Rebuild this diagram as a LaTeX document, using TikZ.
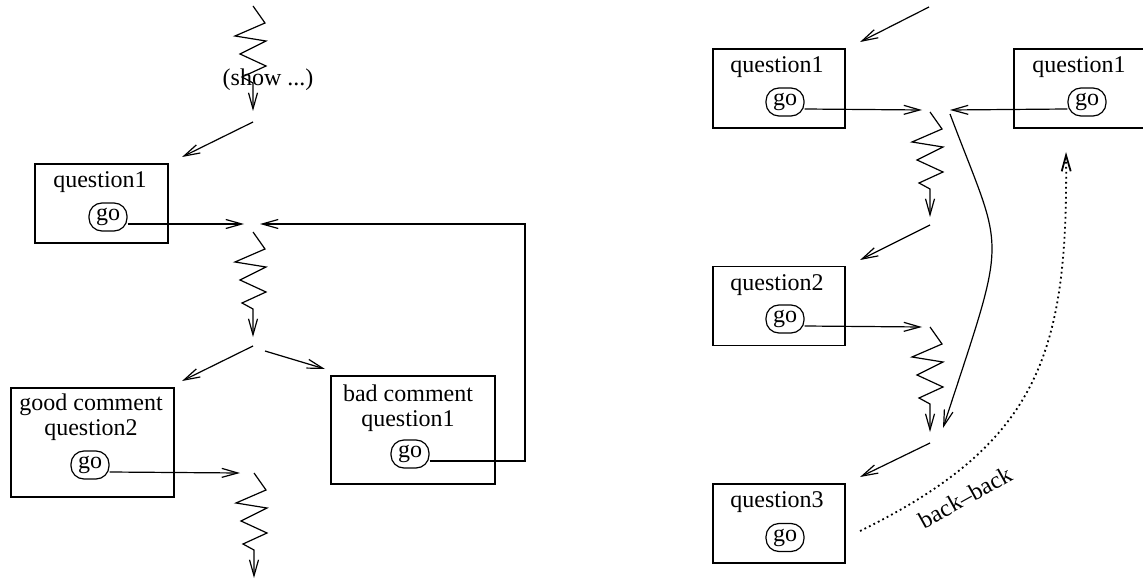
\documentclass[tikz,border=0pt]{standalone}
\usepackage{fontspec}
\setmainfont{Liberation Serif}
\usetikzlibrary{arrows.meta}
\tikzset{
	>={Straight Barb[length=8pt,width=4.5pt]},
	every node/.style={font=\fontsize{12}{12.5}\selectfont},
	qbox/.style={
		draw,
		rectangle,
		inner sep=0pt},
	gobtn/.style={
		draw,
		rounded corners=6.5pt,
		inner xsep=3.5pt,
		inner ysep=0pt,
		minimum height=14pt},
	qtext/.style={align=center},
	line/.style={draw, ->},
	backline/.style={draw, ->, dash pattern=on 0.9pt off 1.6pt, line width=0.9pt},
}
\newcommand*\wiggle[1]{%
	\draw[->] (#1) -- ++(12,17) -- ++(-30,13) -- ++(31,5) -- ++(-26,13)
		-- ++(26,12) -- ++(-24,11) -- ++(11,6) -- ++(0,28);}

\begin{document}
\begin{tikzpicture}
[x=0.5pt, y=-0.5pt, line width=0.6pt]
\useasboundingbox (0,0) rectangle (1143,582);

% left: show, question1, good / bad comment
\coordinate (ltop) at (253,6);
\wiggle{ltop}
\node (show) at (268,80) {(show ...)};
\coordinate (lj1) at (253,122);
\coordinate (lq1tip) at (182,157);
\draw[line] (lj1) -- (lq1tip);

\node[qbox, minimum width=66.5pt, minimum height=39.5pt] (lq1) at (101.5,203.5) {};
\node[qtext] (lq1t) at (100,182) {question1};
\node[gobtn] (lq1go) at (108,217) {go};

\coordinate (lm1) at (244,224);
\coordinate (lm1r) at (260,224);
\coordinate (fbx) at (525,224);
\draw[line] ([yshift=-3.5pt]lq1go.east) -- (lm1);
\coordinate (lz2) at (253,232);
\wiggle{lz2}

\coordinate (ls1) at (253,346);
\coordinate (ls1l) at (182,381);
\coordinate (ls2) at (265,351);
\coordinate (ls2r) at (325,369);
\draw[line] (ls1) -- (ls1l);
\draw[line] (ls2) -- (ls2r);

\node[qbox, minimum width=81.5pt, minimum height=54.5pt] (good) at (92.5,442.5) {};
\node[qtext] (goodt) at (91,417.5) {good comment\\question2};
\node[gobtn] (goodgo) at (90,465) {go};
\coordinate (lm2) at (240,473);
\draw[line] ([yshift=-3.5pt]goodgo.east) -- (lm2);
\coordinate (lz3) at (254,473);
\wiggle{lz3}

\node[qbox, minimum width=82pt, minimum height=54pt] (bad) at (413,430) {};
\node[qtext] (badt) at (408,408) {bad comment\\question1};
\node[gobtn] (badgo) at (410,454) {go};
\draw[line] ([yshift=-3.5pt]badgo.east) -| (fbx) -- (lm1r);

% right: question1 .. question3, back-back
\coordinate (rtop) at (929,7);
\coordinate (rq1tip) at (860,42);
\draw[line] (rtop) -- (rq1tip);

\node[qbox, minimum width=66pt, minimum height=39.5pt] (rq1) at (779,88.5) {};
\node[qtext] (rq1t) at (777,67) {question1};
\node[gobtn] (rq1go) at (785,102) {go};

\node[qbox, minimum width=66pt, minimum height=39.5pt] (rq1b) at (1080,88.5) {};
\node[qtext] (rq1bt) at (1079,67) {question1};
\node[gobtn] (rq1bgo) at (1087,102) {go};

\coordinate (rm1) at (922,110);
\coordinate (rm1r) at (950,110);
\draw[line] ([yshift=-3.5pt]rq1go.east) -- (rm1);
\draw[line] ([yshift=-3.5pt]rq1bgo.west) -- (rm1r);
\coordinate (rz1) at (930,112);
\wiggle{rz1}

\coordinate (rc0) at (950,114);
\coordinate (rc1) at (943,428);
\draw[line] (rc0) .. controls (1005,260) and (1009,226) .. (rc1);

\coordinate (rj2) at (930,225);
\coordinate (rq2tip) at (860,260);
\draw[line] (rj2) -- (rq2tip);

\node[qbox, minimum width=66pt, minimum height=39.5pt] (rq2) at (779,306) {};
\node[qtext] (rq2t) at (777,285) {question2};
\node[gobtn] (rq2go) at (785,319) {go};
\coordinate (rm2) at (922,327);
\draw[line] ([yshift=-3.5pt]rq2go.east) -- (rm2);
\coordinate (rz2) at (930,327);
\wiggle{rz2}

\coordinate (rj3) at (930,443);
\coordinate (rq3tip) at (860,477);
\draw[line] (rj3) -- (rq3tip);

\node[qbox, minimum width=66pt, minimum height=39.5pt] (rq3) at (779,523.5) {};
\node[qtext] (rq3t) at (777,502) {question3};
\node[gobtn] (rq3go) at (785,537.5) {go};

\coordinate (bb0) at (860,531);
\coordinate (bb1) at (1066,152);
\draw[backline] (bb0) .. controls (1040,443) and (1068,352) .. (bb1);
\node[rotate=29] (backlbl) at (965,497) {back--back};
\end{tikzpicture}
\end{document}
